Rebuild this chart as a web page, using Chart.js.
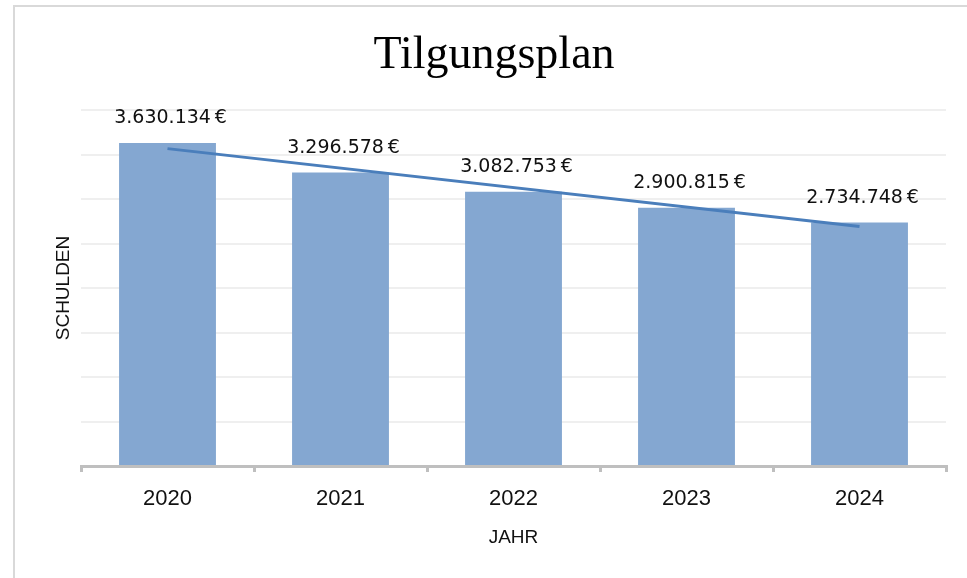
<!DOCTYPE html>
<html>
<head>
<meta charset="utf-8">
<script src="https://cdn.jsdelivr.net/npm/chart.js@4"></script>
<style>
  body { margin: 0; background: #fff; }
  #wrap { position: relative; width: 967px; height: 578px; overflow: hidden; }
  #frame {
    position: absolute; left: 13px; top: 5px; width: 1000px; height: 600px;
    border-left: 2px solid #d9d9d9; border-top: 2px solid #d9d9d9;
    pointer-events: none;
  }
</style>
</head>
<body>
<div id="wrap">
  <canvas id="chart" width="967" height="578"></canvas>
  <div id="frame"></div>
</div>
<script>
// chart data
const years = ['2020', '2021', '2022', '2023', '2024'];
const debts = [3630134, 3296578, 3082753, 2900815, 2734748];
// linear trend line (first and last year only)
const trend = [3566000, null, null, null, 2692000];
const yMax = 4000000;
const yStep = 500000;
const chartTitle = 'Tilgungsplan';

function euro(v) {
    return String(v).replace(/\B(?=(\d{3})+(?!\d))/g, '.') + '\u2009€';
}

// value labels above bars + the title (Excel centres it on the whole frame)
const extraText = {
    id: 'extraText',
    afterDatasetsDraw(chart) {
        const ctx = chart.ctx;
        const meta = chart.getDatasetMeta(1); // the bar dataset
        ctx.save();
        ctx.font = '19px "DejaVu Sans"';
        ctx.fillStyle = '#111';
        ctx.textAlign = 'center';
        ctx.textBaseline = 'middle';
        meta.data.forEach((bar, i) => {
            ctx.fillText(euro(debts[i]), bar.x + 3, bar.y - 25);
        });

        ctx.font = '46px "Liberation Serif"';
        ctx.fillStyle = '#000';
        ctx.textBaseline = 'alphabetic';
        ctx.fillText(chartTitle, 494, 68);
        ctx.restore();
    }
};

let config = {
    data: {
        labels: years,
        datasets: [{
            type: 'line',
            label: 'Trend',
            data: trend,
            spanGaps: true,
            borderColor: '#4a7ebb',
            borderWidth: 3,
            pointRadius: 0,
            order: 0
        }, {
            type: 'bar',
            label: 'Schulden',
            data: debts,
            backgroundColor: '#84a7d1',
            barPercentage: 0.56,
            categoryPercentage: 1,
            order: 1
        }]
    },
    options: {
        responsive: false,
        animation: false,
        layout: { padding: { left: 0, right: 21, top: 110, bottom: 0 } },
        plugins: {
            legend: { display: false },
            tooltip: { enabled: false },
            title: { display: false }
        },
        scales: {
            x: {
                offset: true,
                grid: {
                    display: true,
                    offset: true,
                    drawOnChartArea: false,
                    drawTicks: true,
                    tickLength: 6,
                    color: '#bfbfbf',
                    lineWidth: 3
                },
                border: { display: true, color: '#bfbfbf', width: 3 },
                ticks: {
                    color: '#111',
                    padding: 14,
                    font: { family: '"Liberation Sans"', size: 22 }
                },
                title: {
                    display: true,
                    text: 'JAHR',
                    color: '#111',
                    font: { family: '"Liberation Sans"', size: 19, lineHeight: 1.2 },
                    padding: { top: 0, bottom: 29 }
                },
                afterFit(scale) { scale.height = 112; }
            },
            y: {
                min: 0,
                max: yMax,
                ticks: { stepSize: yStep, display: false },
                grid: { color: '#efefef', lineWidth: 2, drawTicks: false },
                border: { display: false },
                title: {
                    display: true,
                    text: 'SCHULDEN',
                    color: '#111',
                    font: { family: '"Liberation Sans"', size: 19, lineHeight: 1.2 },
                    padding: { top: 52, bottom: 0 }
                },
                afterFit(scale) { scale.width = 81; }
            }
        }
    },
    plugins: [extraText]
};

new Chart(document.getElementById('chart'), config);
</script>
</body>
</html>
